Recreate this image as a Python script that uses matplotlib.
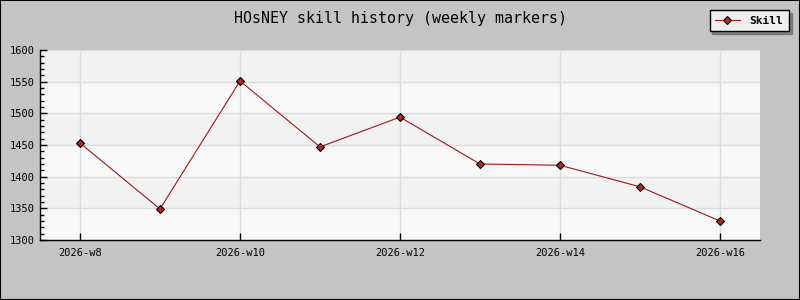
import matplotlib
matplotlib.use("Agg")
import matplotlib.pyplot as plt
from matplotlib.patches import Rectangle
from matplotlib.ticker import MultipleLocator

weeks = ["2026-w8", "2026-w9", "2026-w10", "2026-w11", "2026-w12",
         "2026-w13", "2026-w14", "2026-w15", "2026-w16"]
skill = [1453, 1349, 1551, 1447, 1494, 1420, 1418, 1384, 1330]

BG = "#c4c4c4"
LINE = "#a01818"
MARKER = "#b02828"


def main():
    fig = plt.figure(figsize=(8, 3), dpi=100, facecolor=BG)
    ax = fig.add_axes([40 / 800, 60 / 300, 720 / 800, 190 / 300])
    ax.set_facecolor("#f8f8f8")

    x = list(range(len(weeks)))
    ax.set_xlim(-0.5, len(weeks) - 0.5)
    ax.set_ylim(1300, 1600)

    # alternating horizontal bands
    for lo in range(1300, 1600, 50):
        if (lo - 1300) // 50 % 2 == 1:
            ax.axhspan(lo, lo + 50, color="#f2f2f2", zorder=0, lw=0)

    ax.yaxis.set_major_locator(MultipleLocator(50))
    ax.yaxis.set_minor_locator(MultipleLocator(10))
    ax.set_xticks(x[::2])
    ax.set_xticklabels(weeks[::2])
    ax.grid(True, which="major", color="#dcdcdc", lw=1, zorder=1)

    ax.plot(x, skill, color=LINE, lw=0.8, marker="D", markersize=4.3,
            markerfacecolor=MARKER, markeredgecolor="black",
            markeredgewidth=0.8, label="Skill", zorder=3)

    for side in ("top", "right"):
        ax.spines[side].set_visible(False)
    for side in ("left", "bottom"):
        ax.spines[side].set_color("black")
        ax.spines[side].set_linewidth(1)

    ax.tick_params(axis="both", which="major", direction="in", length=5,
                   width=1, color="black", labelsize=7.5, pad=6)
    ax.tick_params(axis="y", which="minor", direction="in", length=3,
                   width=1, color="black")
    ax.tick_params(axis="y", pad=4)
    for lab in ax.get_xticklabels() + ax.get_yticklabels():
        lab.set_family("DejaVu Sans Mono")

    fig.text(0.5, 1 - 19 / 300, "HOsNEY skill history (weekly markers)",
             ha="center", va="center", family="DejaVu Sans Mono",
             fontsize=10.8)

    leg = fig.legend(loc="upper right", bbox_to_anchor=(789 / 800, 1 - 10 / 300),
                     frameon=True, fancybox=False, shadow=True,
                     prop={"family": "DejaVu Sans Mono", "weight": "bold",
                           "size": 8},
                     handlelength=2.2, borderpad=0.5, handletextpad=0.9,
                     borderaxespad=0)
    leg.get_frame().set_facecolor("#eeeeee")
    leg.get_frame().set_edgecolor("black")
    leg.get_frame().set_alpha(1)
    leg.get_frame().set_linewidth(1)

    fig.patches.append(Rectangle((0, 0), 1, 1, transform=fig.transFigure,
                                 fill=False, edgecolor="black", lw=1.5))

    fig.savefig("out.png", dpi=100, facecolor=BG)


if __name__ == "__main__":
    main()
